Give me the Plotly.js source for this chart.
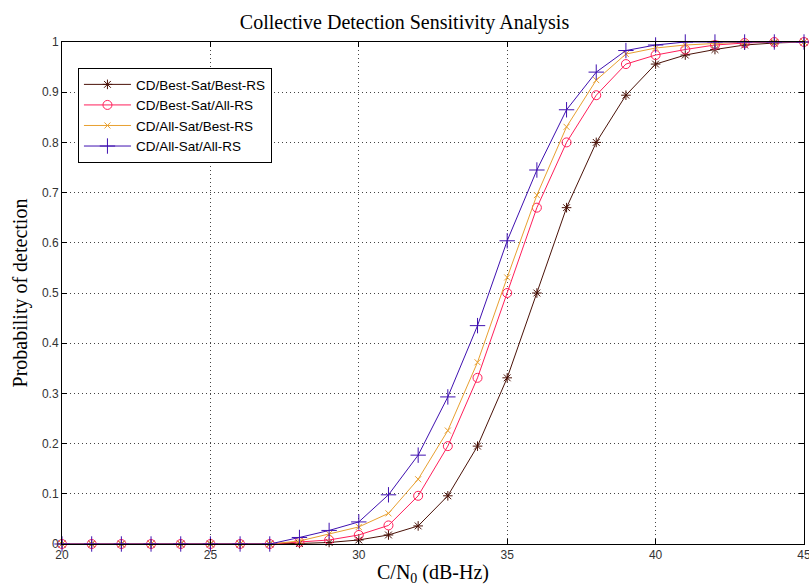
<!DOCTYPE html>
<html>
<head>
<meta charset="utf-8">
<script src="https://cdn.plot.ly/plotly-3.0.1.min.js"></script>
<style>html,body{margin:0;padding:0;background:#fff;}#chart{width:809px;height:586px;}</style>
</head>
<body>
<div id="chart"></div>
<script>
var cn0 = [20,21,22,23,24,25,26,27,28,29,30,31,32,33,34,35,36,37,38,39,40,41,42,43,44,45];
var bestSatBestRS = [0,0,0,0,0,0,0,0,0.001,0.003,0.008,0.018,0.036,0.096,0.195,0.331,0.5,0.67,0.8,0.894,0.956,0.974,0.985,0.994,0.998,1];
var bestSatAllRS  = [0,0,0,0,0,0,0,0,0.004,0.008,0.018,0.037,0.096,0.195,0.331,0.5,0.67,0.8,0.894,0.956,0.974,0.985,0.994,0.998,1,1];
var allSatBestRS  = [0,0,0,0,0,0,0,0,0.006,0.02,0.034,0.061,0.129,0.226,0.362,0.531,0.695,0.831,0.924,0.976,0.988,0.994,0.997,1,1,1];
var allSatAllRS   = [0,0,0,0,0,0,0,0,0.013,0.027,0.044,0.098,0.177,0.293,0.435,0.604,0.745,0.865,0.94,0.983,0.994,1,1,1,1,1];
var seriesNames = ['CD/Best-Sat/Best-RS','CD/Best-Sat/All-RS','CD/All-Sat/Best-RS','CD/All-Sat/All-RS'];
var xTicks = [20,25,30,35,40,45];
var yTicks = [0,0.1,0.2,0.3,0.4,0.5,0.6,0.7,0.8,0.9,1];
var yTickText = ['0','0.1','0.2','0.3','0.4','0.5','0.6','0.7','0.8','0.9','1'];

function tr(y, name, color, symbol, size){
  return {x: cn0, y: y, name: name, type: 'scatter', mode: 'lines+markers', cliponaxis: false,
    line: {color: color, width: 1},
    marker: {symbol: symbol, size: size, color: color, line: {color: color, width: 1}}};
}
var data = [
  tr(bestSatBestRS, seriesNames[0], '#4a1208', 'asterisk-open', 8),
  tr(bestSatAllRS, seriesNames[1], '#ff1f5a', 'circle-open', 9),
  tr(allSatBestRS, seriesNames[2], '#e8a030', 'x-thin-open', 6),
  tr(allSatAllRS, seriesNames[3], '#3f10b0', 'cross-thin-open', 11)
];
var serif = 'Liberation Serif, Times New Roman, serif';
var axisCommon = {showline: true, linecolor: '#000', linewidth: 1, mirror: 'ticks',
  ticks: 'inside', ticklen: 5, tickcolor: '#000', zeroline: false,
  showgrid: true, gridcolor: '#444', griddash: '1px,3px', gridwidth: 1,
  ticklabeloverflow: 'allow',
  tickfont: {family: 'Liberation Sans, Arial, sans-serif', size: 12, color: '#333'}};
var layout = {
  width: 809, height: 586,
  margin: {l: 62, r: 5, t: 42, b: 42},
  paper_bgcolor: '#fff', plot_bgcolor: '#fff',
  title: {text: 'Collective Detection Sensitivity Analysis', x: 0.5, xanchor: 'center', y: 0.962, yanchor: 'middle',
    font: {family: serif, size: 20, color: '#000'}},
  xaxis: Object.assign({}, axisCommon, {range: [20,45], tickvals: xTicks, ticktext: xTicks.map(String),
    title: {text: 'C/N<sub>0</sub> (dB-Hz)', standoff: 4, font: {family: serif, size: 20, color: '#000'}}}),
  yaxis: Object.assign({}, axisCommon, {range: [0,1], tickvals: yTicks, ticktext: yTickText,
    title: {text: 'Probability of detection', standoff: 8, font: {family: serif, size: 20, color: '#000'}}}),
  showlegend: true,
  legend: {x: 0.0215, y: 0.948, xanchor: 'left', yanchor: 'top', bgcolor: '#fff', bordercolor: '#000', borderwidth: 1,
    font: {family: 'Liberation Sans, Arial, sans-serif', size: 13.5, color: '#000'}, tracegroupgap: 0, itemwidth: 47}
};
Plotly.newPlot('chart', data, layout, {displayModeBar: false, staticPlot: true});
</script>
</body>
</html>
